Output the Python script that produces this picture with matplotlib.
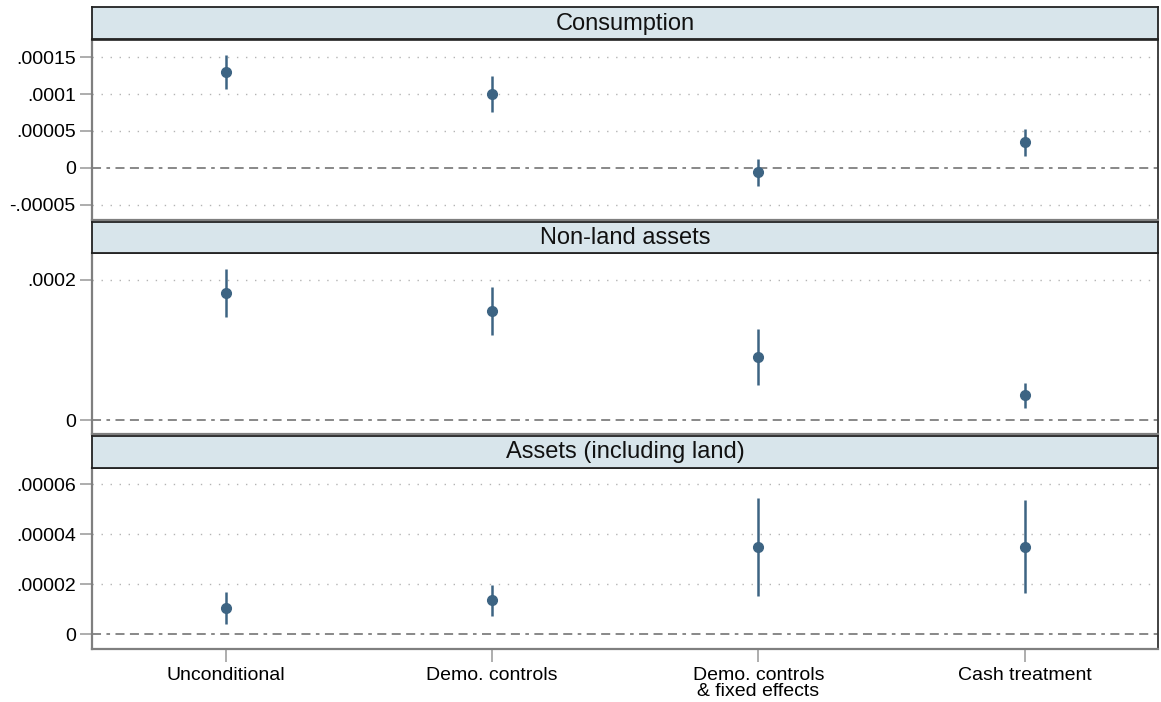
import matplotlib
matplotlib.use("Agg")
import matplotlib.pyplot as plt
from matplotlib.patches import Rectangle

plt.rcParams['font.family'] = ['Liberation Sans', 'DejaVu Sans']

# Specifications (x-axis categories)
categories = ["Unconditional", "Demo. controls", "Demo. controls\n& fixed effects", "Cash treatment"]

# Panel titles
panel_titles = ["Consumption", "Non-land assets", "Assets (including land)"]

# Point estimates and confidence bounds, one list per panel
consumption_est = [0.000130, 0.000100, -0.0000058, 0.0000345]
consumption_lo = [0.0001073, 0.0000757, -0.0000245, 0.0000163]
consumption_hi = [0.0001531, 0.0001246, 0.0000122, 0.0000530]

nonland_est = [0.0001814, 0.0001553, 0.0000900, 0.0000352]
nonland_lo = [0.0001476, 0.0001210, 0.0000505, 0.0000167]
nonland_hi = [0.0002153, 0.0001896, 0.0001296, 0.0000533]

assets_est = [0.0000105, 0.0000136, 0.0000347, 0.0000350]
assets_lo = [0.0000041, 0.0000073, 0.0000152, 0.0000164]
assets_hi = [0.0000170, 0.0000198, 0.0000543, 0.0000535]

# Y ticks / labels per panel
cons_ticks = [-0.00005, 0, 0.00005, 0.0001, 0.00015]
cons_labels = ["-.00005", "0", ".00005", ".0001", ".00015"]
nonland_ticks = [0, 0.0002]
nonland_labels = ["0", ".0002"]
assets_ticks = [0, 0.00002, 0.00004, 0.00006]
assets_labels = ["0", ".00002", ".00004", ".00006"]

panels = [
    (consumption_est, consumption_lo, consumption_hi, cons_ticks, cons_labels, (-0.000071, 0.0001735)),
    (nonland_est, nonland_lo, nonland_hi, nonland_ticks, nonland_labels, (-0.0000204, 0.000238)),
    (assets_est, assets_lo, assets_hi, assets_ticks, assets_labels, (-0.0000060, 0.0000663)),
]

W, H = 1161, 702
fig = plt.figure(figsize=(W / 100, H / 100), dpi=100)

left_px, right_px = 92.3, 1158
# (strip_top, strip_bottom, plot_top, plot_bottom) in pixels from top
rows = [
    (7, 39, 40, 220),
    (221.7, 252.7, 253.3, 434.3),
    (436, 467.7, 468.3, 649.3),
]

mark_color = "#3d6483"
strip_color = "#d8e5eb"
grid_color = "#b4b4b4"
axis_gray = "#7f7f7f"
x = [1, 2, 3, 4]

for i, ((est, lo, hi, ticks, labels, ylim), (st, sb, pt, pb)) in enumerate(zip(panels, rows)):
    ax = fig.add_axes([left_px / W, 1 - pb / H, (right_px - left_px) / W, (pb - pt) / H])
    ax.set_xlim(0.5, 4.5)
    ax.set_ylim(*ylim)

    for t in ticks:
        if t == 0:
            continue
        ax.axhline(t, color=grid_color, lw=1.0, linestyle=(0, (1, 5.5)), zorder=1)
    ax.axhline(0, color=axis_gray, lw=1.3, linestyle=(0, (5, 3, 2, 3, 5, 3, 5, 3)), zorder=2)

    ax.vlines(x, lo, hi, color=mark_color, lw=1.8, zorder=3)
    ax.plot(x, est, 'o', color=mark_color, markersize=7, zorder=4)

    ax.set_yticks(ticks)
    ax.set_yticklabels(labels)
    ax.tick_params(axis='y', length=9, width=1.2, color="#a0a0a0", labelsize=14, pad=3)
    if i == 2:
        ax.set_xticks(x)
        ax.set_xticklabels(categories, linespacing=0.9)
        ax.tick_params(axis='x', length=9, width=1.2, color="#a0a0a0", labelsize=14, pad=4)
    else:
        ax.set_xticks([])

    for side in ["left", "bottom"]:
        ax.spines[side].set_color(axis_gray)
        ax.spines[side].set_linewidth(1.6)
    for side in ["top", "right"]:
        ax.spines[side].set_color("#222222")
        ax.spines[side].set_linewidth(1.2)

    # Title strip
    sax = fig.add_axes([left_px / W, 1 - sb / H, (right_px - left_px) / W, (sb - st) / H])
    sax.set_xlim(0, 1)
    sax.set_ylim(0, 1)
    sax.set_facecolor(strip_color)
    sax.set_xticks([])
    sax.set_yticks([])
    for side in sax.spines.values():
        side.set_color("#222222")
        side.set_linewidth(1.3)
    sax.text(0.5, 0.48, panel_titles[i], ha='center', va='center', fontsize=17, color="#111111")

fig.savefig("out.png", dpi=100)
